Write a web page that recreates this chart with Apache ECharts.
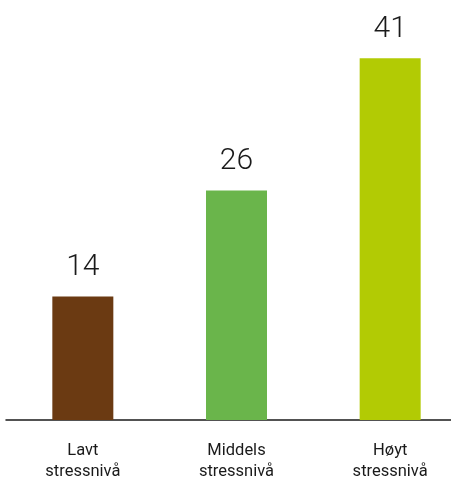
<!DOCTYPE html>
<html>
<head>
<meta charset="utf-8">
<script src="https://cdn.jsdelivr.net/npm/echarts@6/dist/echarts.min.js"></script>
<style>
html, body { margin: 0; padding: 0; background: #fff; }
#chart { width: 451px; height: 482px; }
</style>
</head>
<body>
<div id="chart"></div>
<script>
const categories = ["Lavt\nstressnivå", "Middels\nstressnivå", "Høyt\nstressnivå"];
const values = [14, 26, 41];
const barColors = ["#6b3a12", "#6ab54b", "#b2cb04"];

const chart = echarts.init(document.getElementById("chart"));
chart.setOption({
    animation: false,
    grid: {
        left: 6,
        right: -16,
        top: 23,
        bottom: 62,
        outerBoundsMode: "none"
    },
    xAxis: {
        type: "category",
        data: categories,
        axisTick: { show: false },
        axisLine: { lineStyle: { color: "#1a1a1a", width: 1.5 } },
        axisLabel: {
            color: "#1a1a1a",
            fontFamily: "Roboto",
            fontSize: 16.5,
            lineHeight: 21,
            margin: 20,
            interval: 0
        }
    },
    yAxis: {
        type: "value",
        min: 0,
        max: 45,
        show: false
    },
    series: [
        {
            type: "bar",
            barWidth: 61,
            data: values.map((v, i) => ({ value: v, itemStyle: { color: barColors[i] } })),
            label: {
                show: true,
                position: "top",
                distance: 14,
                color: "#1a1a1a",
                fontFamily: "Roboto",
                fontWeight: 300,
                fontSize: 30
            }
        }
    ]
});
</script>
</body>
</html>
